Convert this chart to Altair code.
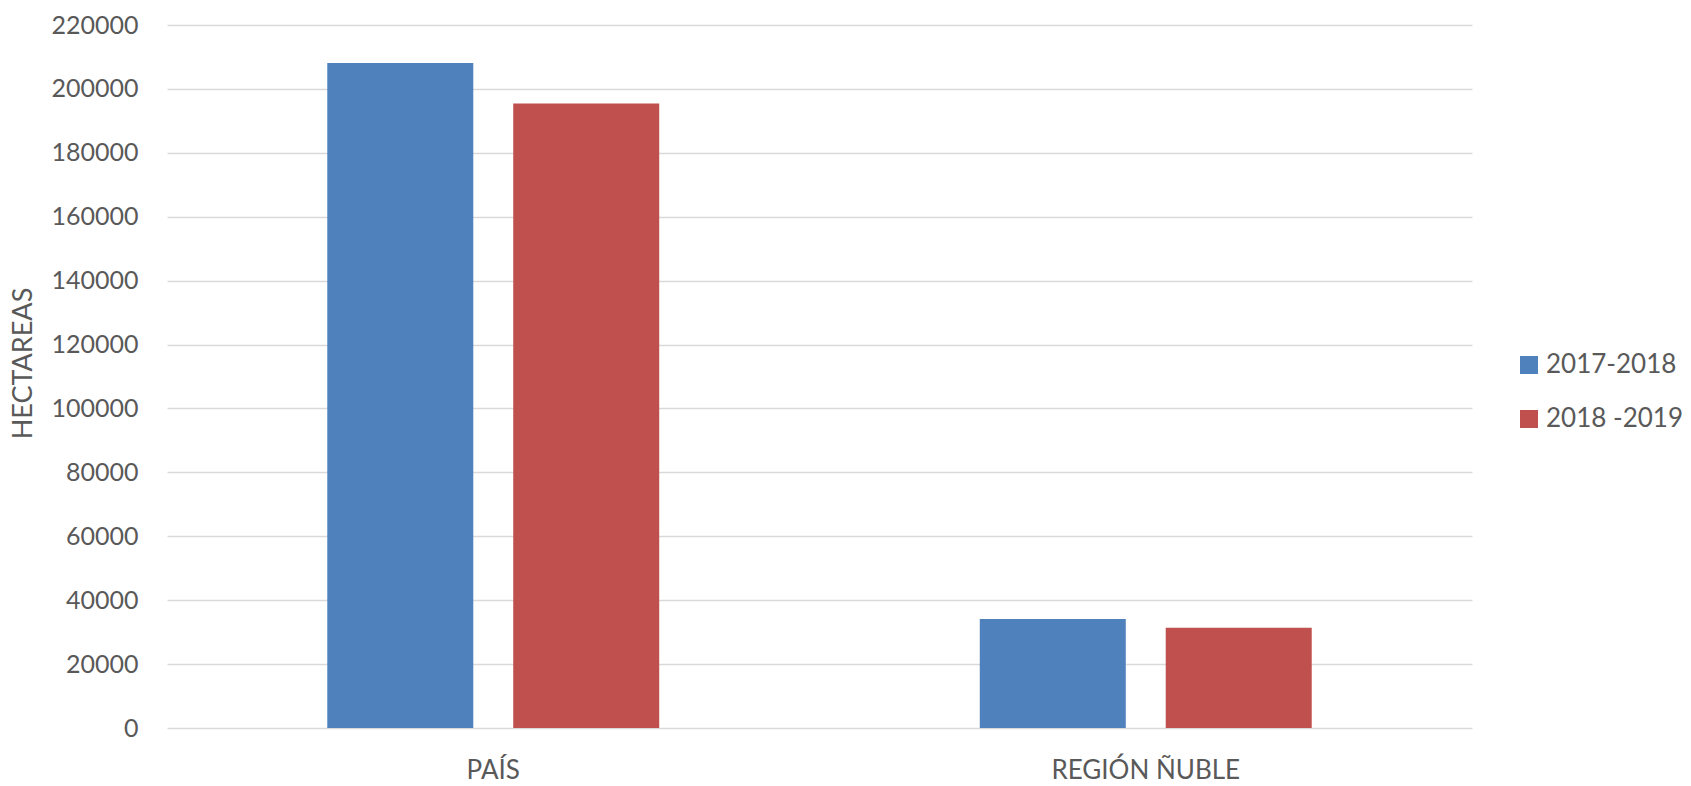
import altair as alt
import pandas as pd

# Hectares by area and season
categories = ["PAÍS", "REGIÓN ÑUBLE"]
seasons = ["2017-2018", "2018 -2019"]
hectares_2017_2018 = [208100, 34100]
hectares_2018_2019 = [195400, 31400]
y_ticks = [0, 20000, 40000, 60000, 80000, 100000, 120000, 140000,
           160000, 180000, 200000, 220000]

rows = []
for cat, v1, v2 in zip(categories, hectares_2017_2018, hectares_2018_2019):
    rows.append({"area": cat, "temporada": seasons[0], "hectareas": v1})
    rows.append({"area": cat, "temporada": seasons[1], "hectareas": v2})
df = pd.DataFrame(rows)

FONT = "Lato"
TEXT = "#595959"

chart = alt.Chart(df).mark_bar(size=146).encode(
    x=alt.X(
        "area:N",
        sort=categories,
        scale=alt.Scale(paddingInner=0, paddingOuter=0),
        axis=alt.Axis(
            title=None, labelAngle=0, domain=False, ticks=False, grid=False,
            labelFont=FONT, labelFontSize=26, labelColor=TEXT,
            labelPadding=29, labelLimit=0,
        ),
    ),
    xOffset=alt.XOffset(
        "temporada:N",
        sort=seasons,
        scale=alt.Scale(paddingInner=0.215, paddingOuter=0.862),
    ),
    y=alt.Y(
        "hectareas:Q",
        scale=alt.Scale(domain=[0, 220000], nice=False),
        axis=alt.Axis(
            title="HECTAREAS", values=y_ticks, format="d",
            domain=False, ticks=False,
            grid=True, gridColor="#D9D9D9", gridWidth=1.3,
            labelFont=FONT, labelFontSize=25, labelColor=TEXT,
            labelPadding=29,
            titleFont=FONT, titleFontSize=27, titleColor=TEXT,
            titleFontWeight="normal",
            titleX=-144, titleY=338, titleAngle=270,
            titleAlign="center", titleBaseline="middle",
        ),
    ),
    color=alt.Color(
        "temporada:N",
        sort=seasons,
        scale=alt.Scale(domain=seasons, range=["#4F81BD", "#C0504D"]),
        legend=alt.Legend(
            title=None, orient="none", legendX=1349, legendY=327,
            symbolType="square", symbolSize=324, symbolStrokeWidth=0,
            labelFont=FONT, labelFontSize=26, labelColor=TEXT,
            labelOffset=4, rowPadding=28, labelLimit=0,
        ),
    ),
).properties(
    width=1305,
    height=703,
    background="white",
    autosize=alt.AutoSizeParams(type="none"),
    padding={"left": 167, "top": 25, "right": 219, "bottom": 58},
).configure_view(
    strokeWidth=0
)

chart.save("out.html", embed_options={"renderer": "svg", "actions": False})
